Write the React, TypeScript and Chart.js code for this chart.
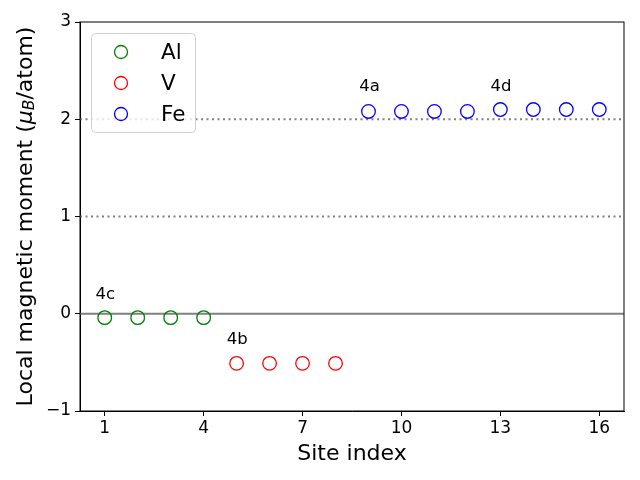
import React, { useEffect, useRef } from "react";
import { Chart, registerables } from "chart.js";

Chart.register(...registerables);

const alSites = [1, 2, 3, 4];
const alValues = [-0.04, -0.04, -0.04, -0.04];
const vSites = [5, 6, 7, 8];
const vValues = [-0.51, -0.51, -0.51, -0.51];
const feSites = [9, 10, 11, 12, 13, 14, 15, 16];
const feValues = [2.08, 2.08, 2.08, 2.08, 2.1, 2.1, 2.1, 2.1];
const xTicks = [1, 4, 7, 10, 13, 16];
const seriesNames = ["Al", "V", "Fe"];
const seriesColors = ["#008000", "#ff0000", "#0000ff"];
const siteLabels = ["4c", "4b", "4a", "4d"];
const siteLabelX = [0.72, 4.7, 8.72, 12.7];
const siteLabelY = [0.15, -0.31, 2.29, 2.29];
const refLines = [0, 1, 2];

const FONT = "'DejaVu Sans', sans-serif";

const overlayPlugin = {
  id: "overlay",
  beforeDatasetsDraw(chart: any) {
    const { ctx, chartArea } = chart;
    const y = chart.scales.y;
    ctx.save();
    refLines.forEach((v) => {
      const py = y.getPixelForValue(v);
      ctx.beginPath();
      ctx.strokeStyle = "#808080";
      if (v === 0) {
        ctx.setLineDash([]);
        ctx.lineWidth = 2;
      } else {
        ctx.setLineDash([2, 3.5]);
        ctx.lineWidth = 2;
      }
      ctx.moveTo(chartArea.left, py);
      ctx.lineTo(chartArea.right, py);
      ctx.stroke();
    });
    ctx.restore();
  },
  afterDraw(chart: any) {
    const { ctx, chartArea } = chart;
    const x = chart.scales.x;
    const y = chart.scales.y;
    ctx.save();
    ctx.fillStyle = "#000";
    ctx.font = `16.5px ${FONT}`;
    ctx.textAlign = "left";
    ctx.textBaseline = "alphabetic";
    siteLabels.forEach((t, i) => {
      ctx.fillText(t, x.getPixelForValue(siteLabelX[i]), y.getPixelForValue(siteLabelY[i]));
    });
    ctx.strokeStyle = "#000";
    ctx.lineWidth = 1;
    ctx.setLineDash([]);
    ctx.strokeRect(chartArea.left, chartArea.top, chartArea.right - chartArea.left, chartArea.bottom - chartArea.top);
    const lx = chartArea.left + 11;
    const ly = chartArea.top + 11;
    const lw = 104;
    const lh = 99;
    ctx.fillStyle = "rgba(255,255,255,0.8)";
    ctx.strokeStyle = "#d0d0d0";
    ctx.lineWidth = 1;
    ctx.beginPath();
    (ctx as any).roundRect(lx + 0.5, ly + 0.5, lw, lh, 4);
    ctx.fill();
    ctx.stroke();
    ctx.font = `21.5px ${FONT}`;
    ctx.textBaseline = "middle";
    seriesNames.forEach((n, i) => {
      const cy = ly + 19 + i * 31;
      ctx.beginPath();
      ctx.strokeStyle = seriesColors[i];
      ctx.lineWidth = 1.3;
      ctx.arc(lx + 30, cy, 6.5, 0, Math.PI * 2);
      ctx.stroke();
      ctx.fillStyle = "#000";
      ctx.fillText(n, lx + 70, cy + 1);
    });
    ctx.save();
    ctx.translate(26, (chartArea.top + chartArea.bottom) / 2);
    ctx.rotate(-Math.PI / 2);
    ctx.fillStyle = "#000";
    ctx.textBaseline = "middle";
    const parts: [string, string, number][] = [
      ["Local magnetic moment (", `22px ${FONT}`, 0],
      ["\u03BC", `italic 22px ${FONT}`, 0],
      ["B", `italic 15.5px ${FONT}`, 4],
      ["/atom)", `22px ${FONT}`, 0],
    ];
    let total = 0;
    parts.forEach(([t, f]) => {
      ctx.font = f;
      total += ctx.measureText(t).width;
    });
    let cx = -total / 2;
    ctx.textAlign = "left";
    parts.forEach(([t, f, dy]) => {
      ctx.font = f;
      ctx.fillText(t, cx, dy);
      cx += ctx.measureText(t).width;
    });
    ctx.restore();
    ctx.restore();
  },
};

export default function App() {
  const ref = useRef<HTMLCanvasElement>(null);
  useEffect(() => {
    if (!ref.current) return;
    const mk = (xs: number[], ys: number[], i: number) => ({
      label: seriesNames[i],
      data: xs.map((v, k) => ({ x: v, y: ys[k] })),
      borderColor: seriesColors[i],
      backgroundColor: "rgba(0,0,0,0)",
      pointRadius: 6.8,
      pointBorderWidth: 1.3,
      showLine: false,
    });
    const chart = new Chart(ref.current, {
      type: "scatter",
      data: {
        datasets: [mk(alSites, alValues, 0), mk(vSites, vValues, 1), mk(feSites, feValues, 2)],
      },
      options: {
        animation: false,
        responsive: false,
        devicePixelRatio: 1,
        layout: { padding: { top: 22, right: 16, left: 0, bottom: 0 } },
        plugins: { legend: { display: false }, tooltip: { enabled: false } },
        scales: {
          x: {
            type: "linear",
            min: 0.25,
            max: 16.75,
            afterBuildTicks: (s: any) => {
              s.ticks = xTicks.map((v) => ({ value: v }));
            },
            afterFit: (s: any) => {
              s.height = 69;
            },
            grid: { drawOnChartArea: false, drawTicks: true, tickLength: 5, color: "#000" },
            border: { color: "#000", width: 1 },
            ticks: { color: "#000", font: { family: FONT, size: 17 }, padding: 2, maxRotation: 0 },
            title: { display: true, text: "Site index", color: "#000", font: { family: FONT, size: 22 }, padding: { top: 0, bottom: 13 } },
          },
          y: {
            type: "linear",
            min: -1,
            max: 3,
            ticks: { stepSize: 1, color: "#000", font: { family: FONT, size: 17 }, padding: 4,
              callback: (v: any) => (Number(v) < 0 ? "\u2212" + Math.abs(Number(v)) : String(v)) },
            afterFit: (s: any) => {
              s.width = 80;
            },
            grid: { drawOnChartArea: false, drawTicks: true, tickLength: 5, color: "#000" },
            border: { color: "#000", width: 1 },
          },
        },
      },
      plugins: [overlayPlugin],
    });
    return () => chart.destroy();
  }, []);
  return (
    <div style={{ position: "absolute", left: 0, top: 0, width: 640, height: 480, background: "#fff" }}>
      <canvas ref={ref} width={640} height={480} style={{ width: 640, height: 480 }} />
    </div>
  );
}
